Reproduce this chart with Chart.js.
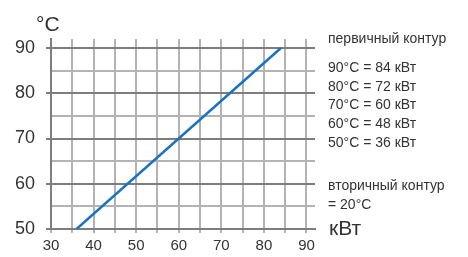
<!DOCTYPE html>
<html>
<head>
<meta charset="utf-8">
<script src="https://cdn.jsdelivr.net/npm/chart.js@4"></script>
<style>
    html, body { margin: 0; padding: 0; background: #fff; }
    #wrap { position: relative; width: 468px; height: 257px; }
    .txt { position: absolute; font-family: "Liberation Sans", Arial, sans-serif; color: #333; white-space: nowrap; }
    .leg { font-size: 14px; left: 328px; line-height: 14px; }
</style>
</head>
<body>
<div id="wrap">
    <canvas id="grafico" width="468" height="257"></canvas>
    <div class="txt" style="left:36px; top:12px; font-size:21px;">°C</div>
    <div class="txt" style="left:329px; top:216px; font-size:21px;">кВт</div>
    <div class="txt leg" style="top:31px;">первичный контур</div>
    <div class="txt leg" style="top:60px;">90°C = 84 кВт</div>
    <div class="txt leg" style="top:79px;">80°C = 72 кВт</div>
    <div class="txt leg" style="top:97px;">70°C = 60 кВт</div>
    <div class="txt leg" style="top:116px;">60°C = 48 кВт</div>
    <div class="txt leg" style="top:135px;">50°C = 36 кВт</div>
    <div class="txt leg" style="top:178px;">вторичный контур</div>
    <div class="txt leg" style="top:197px;">= 20°C</div>
</div>
<script>
// DADOS
const potenciaKw = [36, 84];
const temperaturaC = [50, 90];
const ticksX = [30, 40, 50, 60, 70, 80, 90];
const ticksY = [50, 60, 70, 80, 90];

const corForte = '#7d7d7d';
const corFraca = '#b3b3b3';

// linhas de grade a cada 5 unidades, entre o primeiro e o ultimo rotulo
function gradeDe(rotulos) {
    const vals = [];
    for (let v = rotulos[0]; v <= rotulos[rotulos.length - 1]; v += 5) vals.push({ value: v });
    return vals;
}

function montarGrafico() {
    const ctx = document.getElementById('grafico').getContext('2d');
    const pontos = potenciaKw.map((x, i) => ({ x: x, y: temperaturaC[i] }));

    new Chart(ctx, {
        type: 'scatter',
        data: {
            datasets: [{
                data: pontos,
                showLine: true,
                borderColor: '#1a72c2',
                borderWidth: 2.5,
                pointRadius: 0,
                fill: false
            }]
        },
        options: {
            responsive: false,
            animation: false,
            layout: { padding: { top: 39, right: 153, left: 0, bottom: 0 } },
            plugins: { legend: { display: false }, tooltip: { enabled: false } },
            scales: {
                x: {
                    type: 'linear',
                    min: 30,
                    max: 92,
                    afterBuildTicks: s => { s.ticks = gradeDe(ticksX); },
                    afterFit: function (s) { s.height = 28; },
                    ticks: {
                        autoSkip: false,
                        maxRotation: 0,
                        padding: 4,
                        color: '#333',
                        font: { family: 'Liberation Sans', size: 15 },
                        callback: v => ticksX.includes(v) ? v : ''
                    },
                    grid: {
                        color: corFraca,
                        lineWidth: 2,
                        tickLength: 4,
                        tickColor: corFraca
                    },
                    border: { display: true, color: corForte, width: 2 }
                },
                y: {
                    min: 50,
                    max: 92,
                    afterBuildTicks: s => { s.ticks = gradeDe(ticksY); },
                    afterFit: function (s) { s.width = 51; },
                    ticks: {
                        autoSkip: false,
                        padding: 11,
                        color: '#333',
                        font: { family: 'Liberation Sans', size: 18 },
                        callback: v => ticksY.includes(v) ? v : ''
                    },
                    grid: {
                        color: c => (c.tick && ticksY.includes(c.tick.value)) ? corForte : corFraca,
                        lineWidth: 2,
                        tickLength: 5,
                        tickColor: c => (c.tick && ticksY.includes(c.tick.value)) ? corForte : 'transparent'
                    },
                    border: { display: true, color: corForte, width: 2 }
                }
            }
        }
    });
}

montarGrafico();
</script>
</body>
</html>
